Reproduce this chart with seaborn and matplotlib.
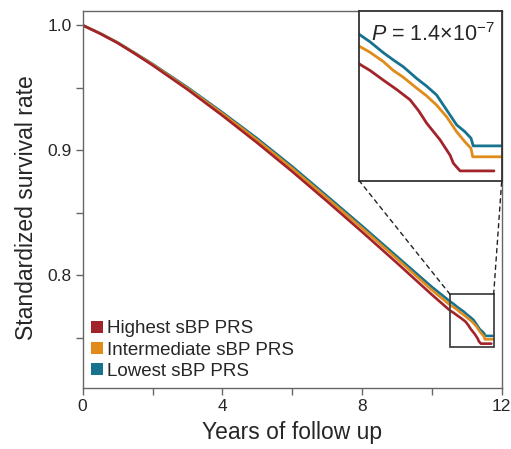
import numpy as np
import pandas as pd
import matplotlib
matplotlib.use("Agg")
import matplotlib.pyplot as plt
import seaborn as sns
from matplotlib.patches import Patch, Rectangle, ConnectionPatch

sns.set_theme(style="white")
plt.rcParams['font.family'] = ['Liberation Sans', 'DejaVu Sans']
plt.rcParams['mathtext.fontset'] = 'custom'
plt.rcParams['mathtext.rm'] = 'Liberation Sans'
plt.rcParams['mathtext.it'] = 'Liberation Sans:italic'

# ── data ──
groups = ['Highest sBP PRS', 'Intermediate sBP PRS', 'Lowest sBP PRS']
colors = ['#a3232a', '#e08b1a', '#16728f']

years_main = [0, 0.5, 1, 1.5, 2, 3, 4, 5, 6, 7, 8, 9, 10]
highest_main = [1.0, 0.9933, 0.9858, 0.9771, 0.9680, 0.9486, 0.9277, 0.9058, 0.8829, 0.8590, 0.8346, 0.8097, 0.7843]
intermediate_main = [1.0, 0.9934, 0.9860, 0.9774, 0.9686, 0.9495, 0.9293, 0.9080, 0.8854, 0.8616, 0.8376, 0.8130, 0.7880]
lowest_main = [1.0, 0.9935, 0.9862, 0.9777, 0.9690, 0.9503, 0.9302, 0.9093, 0.8869, 0.8632, 0.8393, 0.8149, 0.7905]

highest_tail_years = [10.524, 10.612, 10.729, 10.85, 10.965, 11.04, 11.111, 11.228, 11.316, 11.345, 11.404, 11.702]
highest_tail = [0.7715, 0.7700, 0.7676, 0.7652, 0.7627, 0.7600, 0.7569, 0.7528, 0.7490, 0.7470, 0.7451, 0.7451]
intermediate_tail_years = [10.524, 10.612, 10.729, 10.817, 10.905, 11.023, 11.110, 11.198, 11.286, 11.374, 11.447, 11.50, 11.515, 11.761]
intermediate_tail = [0.7759, 0.7745, 0.7722, 0.7700, 0.7683, 0.7656, 0.7637, 0.7614, 0.7585, 0.7548, 0.7523, 0.7507, 0.7486, 0.7486]
lowest_tail_years = [10.524, 10.612, 10.729, 10.817, 10.905, 11.023, 11.110, 11.198, 11.286, 11.374, 11.447, 11.50, 11.52, 11.761]
lowest_tail = [0.7788, 0.7771, 0.7744, 0.7726, 0.7709, 0.7680, 0.7661, 0.7639, 0.7602, 0.7565, 0.7548, 0.7532, 0.7513, 0.7513]

p_text = r'$P$ = 1.4×10$^{-7}$'

# long-form table
frames = []
for g, ym, vm, yt, vt in [
        (groups[0], years_main, highest_main, highest_tail_years, highest_tail),
        (groups[1], years_main, intermediate_main, intermediate_tail_years, intermediate_tail),
        (groups[2], years_main, lowest_main, lowest_tail_years, lowest_tail)]:
    frames.append(pd.DataFrame({'group': g, 'years': list(ym) + list(yt),
                                'survival': list(vm) + list(vt)}))
df = pd.concat(frames, ignore_index=True)
palette = dict(zip(groups, colors))
draw_order = groups[::-1]  # red drawn on top

fig = plt.figure(figsize=(5.11, 4.49), dpi=100)
ax = fig.add_axes([0.1618, 0.1359, 0.82, 0.8385])

sns.lineplot(data=df, x='years', y='survival', hue='group', hue_order=draw_order,
             palette=palette, lw=1.9, ax=ax, legend=False, estimator=None)

ax.set_xlim(0, 12)
ax.set_ylim(0.7096, 1.011)
ax.set_xticks(np.arange(0, 13, 2))
ax.set_xticklabels(['0', '', '4', '', '8', '', '12'])
ax.set_yticks([0.75, 0.8, 0.85, 0.9, 0.95, 1.0])
ax.set_yticklabels(['', '0.8', '', '0.9', '', '1.0'])
ax.tick_params(axis='both', direction='out', length=5, width=1, color='#666666',
               labelsize=12.5, pad=3, bottom=True, left=True)
ax.set_xlabel('Years of follow up', fontsize=16.5, labelpad=5)
ax.set_ylabel('Standardized survival rate', fontsize=16.5)
ax.yaxis.set_label_coords(-0.107, 0.478)
for s in ax.spines.values():
    s.set_color('#666666')
    s.set_linewidth(1)

handles = [Patch(facecolor=c, edgecolor='none') for c in colors]
ax.legend(handles, groups, loc='lower left', bbox_to_anchor=(0.021, 0.022),
          frameon=False, fontsize=13.5, handlelength=0.62, handleheight=0.62,
          handletextpad=0.22, labelspacing=0.22, borderpad=0, borderaxespad=0)

# zoom window
x0, x1 = 10.52, 11.77
y0, y1 = 0.7426, 0.7846
ax.add_patch(Rectangle((x0, y0), x1 - x0, y1 - y0, fill=False,
                       edgecolor='#444444', lw=1.3, zorder=5))

axins = fig.add_axes([0.7035, 0.5969, 0.2783, 0.3775])
sns.lineplot(data=df, x='years', y='survival', hue='group', hue_order=draw_order,
             palette=palette, lw=2.0, ax=axins, legend=False, estimator=None)
axins.set_xlim(x0, x1)
axins.set_ylim(y0, y1)
axins.set_xticks([])
axins.set_yticks([])
axins.set_xlabel('')
axins.set_ylabel('')
for s in axins.spines.values():
    s.set_color('#333333')
    s.set_linewidth(1.3)
axins.text(0.08, 0.93, p_text, transform=axins.transAxes, ha='left', va='top',
           fontsize=15.5)

for xa, xb in [(x0, 0.0), (x1, 1.0)]:
    con = ConnectionPatch(xyA=(xa, y1), coordsA=ax.transData,
                          xyB=(xb, 0.0), coordsB=axins.transAxes,
                          linestyle=(0, (3, 3)), color='#222222', lw=1)
    fig.add_artist(con)

plt.savefig('out.png', dpi=100)
